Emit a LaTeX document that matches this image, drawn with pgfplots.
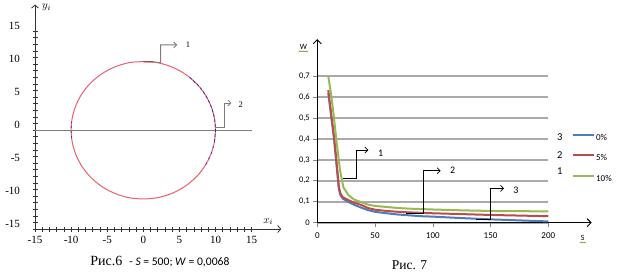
\documentclass[border=0pt]{standalone}
\usepackage{pgfplots}
\pgfplotsset{compat=1.18}
\usepackage{fontspec}
\setmainfont{Liberation Serif}
\newfontfamily\carlito{Carlito}
\usetikzlibrary{arrows.meta,decorations.pathmorphing}
\definecolor{circred}{RGB}{236,96,108}
\definecolor{circblue}{RGB}{50,40,190}
\definecolor{annogray}{RGB}{125,125,125}
\definecolor{xlblue}{RGB}{74,126,187}
\definecolor{xlred}{RGB}{190,75,72}
\definecolor{xlgreen}{RGB}{152,185,84}
\definecolor{gridg}{RGB}{170,170,170}
\begin{document}
\begin{tikzpicture}
\useasboundingbox (0,0) rectangle (624pt,274pt);
% ---------------- Left chart (Рис.6) ----------------
\begin{axis}[
  at={(35pt,45pt)}, anchor=south west,
  x=7.22pt, y=6.6pt,
  xmin=-15, xmax=19.1, ymin=-15, ymax=19,
  axis lines=left,
  axis line style={draw=black!80, line width=0.8pt, -{Straight Barb[length=3pt,width=7pt]}},
  xtick={-15,-10,...,15}, ytick={-15,-10,...,15},
  minor x tick num=4, minor y tick num=4,
  tick align=center,
  major tick length=5pt, minor tick length=5pt,
  tick style={black!80, line width=0.6pt},
  /pgf/number format/assume math mode=true,
  ticklabel style={font=\fontsize{11}{12}\selectfont},
  yticklabel style={xshift=-9pt, yshift=5pt},
  xticklabel style={yshift=-1pt},
  clip=false,
]
\addplot[annogray, line width=1pt] coordinates {(-15,0) (15,0)};
\addplot[circred, line width=1pt, smooth] coordinates {
(10,0) (9.848,1.806) (9.397,3.557) (8.660,5.200) (7.660,6.685) (6.428,7.967)
(5.000,9.007) (3.420,9.773) (1.736,10.242) (0,10.35) (-1.736,10.242) (-3.420,9.773)
(-5.000,9.007) (-6.428,7.967) (-7.660,6.685) (-8.660,5.200) (-9.397,3.557) (-9.848,1.806)
(-10,0) (-9.848,-1.816) (-9.397,-3.577) (-8.660,-5.229) (-7.660,-6.722) (-6.428,-8.011)
(-5.000,-9.057) (-3.420,-9.827) (-1.736,-10.299) (0,-10.45) (1.736,-10.299) (3.420,-9.827)
(5.000,-9.057) (6.428,-8.011) (7.660,-6.722) (8.660,-5.229) (9.397,-3.577) (9.848,-1.816)
(10,0)};
\addplot[circblue, line width=0.7pt, smooth, dash pattern=on 3pt off 2pt] coordinates {
(9.848,-1.816) (10,0) (9.848,1.806) (9.397,3.557) (8.660,5.200) (7.660,6.685) (6.428,7.967)};
\addplot[circblue, line width=0.7pt, smooth, dash pattern=on 2pt off 4pt] coordinates {
(8.660,-5.229) (9.397,-3.577) (9.848,-1.816)};
\addplot[circblue, line width=0.7pt, dash pattern=on 2pt off 3pt] coordinates {
(-9.95,-1.2) (-10,0) (-9.95,1.2)};
\addplot[circred!70!black, line width=1.2pt] coordinates {(0,10.35) (1.4,10.33)};
\draw[annogray, line width=0.8pt, -{Straight Barb[length=3pt,width=6pt]}]
  (axis cs:1.4,10.33) -- (axis cs:2.4,10.2) -- (axis cs:2.4,12.9) -- (axis cs:4.7,12.9);
\node[font=\fontsize{8.5}{9}\selectfont] at (axis cs:6.2,13.0) {1};
\draw[annogray, line width=0.8pt, -{Straight Barb[length=3pt,width=6pt]}]
  (axis cs:10.07,0.35) -- (axis cs:11.2,0.35) -- (axis cs:11.2,4.1) -- (axis cs:12.2,4.1);
\node[font=\fontsize{8.5}{9}\selectfont] at (axis cs:13.5,3.8) {2};
\node[font=\itshape\fontsize{11}{12}\selectfont] at (axis cs:-13.4,18.6) {$y_i$};
\node[font=\itshape\fontsize{11}{12}\selectfont] at (axis cs:17.3,-13.9) {$x_i$};
\node at (axis cs:2.3,-20) {\fontsize{14}{15}\selectfont Рис.6\ \ {\carlito\fontsize{11.6}{13}\selectfont - \textit{S} = 500; \textit{W} = 0,0068}};
\end{axis}
% ---------------- Right chart (Рис. 7) ----------------
\begin{axis}[
  at={(317.3pt,51.3pt)}, anchor=south west,
  x=1.155pt, y=209.6pt,
  xmin=0, xmax=200, ymin=0, ymax=0.7,
  axis lines=left,
  axis line style={draw=black, line width=0.9pt, -{Straight Barb[length=4pt,width=8pt]}},
  x axis line style={shorten >=-43.4pt},
  y axis line style={shorten >=-36.9pt},
  ymajorgrids,
  grid style={gridg, line width=1.6pt},
  xtick={0,50,100,150,200},
  ytick={0,0.1,0.2,0.3,0.4,0.5,0.6,0.7},
  yticklabels={0,{0,1},{0,2},{0,3},{0,4},{0,5},{0,6},{0,7}},
  xtick align=outside, ytick align=outside,
  major tick length=4pt,
  tick style={gridg!80!black, line width=0.6pt},
  /pgf/number format/assume math mode=true,
  ticklabel style={font=\carlito\fontsize{8.5}{9}\selectfont},
  xticklabel style={yshift=-2pt, font=\carlito\fontsize{9}{10}\selectfont},
  clip=false,
  legend style={draw=none, fill=none, at={(axis cs:220.5,0.4256)}, anchor=north west,
    font=\carlito\fontsize{9}{10}\selectfont, row sep=13pt, inner sep=0pt,
    nodes={inner xsep=1pt, inner ysep=0pt, text height=6pt, text depth=1pt}},
  legend cell align=left,
  legend image code/.code={\draw[#1] (0pt,3pt) -- (21pt,3pt);},
]
\addplot[xlblue, line width=2pt, line join=round] coordinates {
(9.5,0.62) (12,0.51) (14.5,0.40) (17.3,0.24) (18.7,0.16) (20,0.132) (22,0.115) (26,0.102)
(32,0.085) (38,0.072) (44,0.060) (50,0.052) (60,0.045) (70,0.039) (80,0.035) (90,0.031)
(100,0.029) (125,0.022) (150,0.016) (175,0.011) (200,0.006)};
\addplot[xlred, line width=2pt, line join=round] coordinates {
(9.5,0.633) (12,0.52) (14.5,0.41) (17.3,0.25) (18.7,0.17) (20,0.14) (22,0.122) (26,0.11)
(32,0.095) (38,0.085) (44,0.070) (50,0.062) (60,0.056) (70,0.052) (80,0.049) (90,0.047)
(100,0.045) (125,0.041) (150,0.037) (175,0.034) (200,0.031)};
\addplot[xlgreen, line width=2pt, line join=round] coordinates {
(9.5,0.70) (12,0.61) (14,0.52) (16.8,0.38) (19.7,0.25) (22.5,0.17) (26.9,0.132) (32,0.11)
(38,0.098) (44,0.086) (50,0.080) (60,0.075) (70,0.070) (80,0.067) (90,0.065) (100,0.063)
(125,0.059) (150,0.056) (175,0.055) (200,0.054)};
\legend{0\%,5\%,10\%}
\draw[black, line width=0.7pt, -{Straight Barb[length=3pt,width=6pt]}]
  (axis cs:22.5,0.212) -- (axis cs:34.1,0.212) -- (axis cs:34.1,0.347) -- (axis cs:44.2,0.347);
\node[font=\carlito\fontsize{10}{11}\selectfont] at (axis cs:54.9,0.331) {1};
\draw[black, line width=0.7pt, -{Straight Barb[length=3pt,width=6pt]}]
  (axis cs:76.8,0.045) -- (axis cs:91.8,0.045) -- (axis cs:91.8,0.248) -- (axis cs:106.8,0.248);
\node[font=\carlito\fontsize{10}{11}\selectfont] at (axis cs:117.2,0.248) {2};
\draw[black, line width=0.7pt, -{Straight Barb[length=3pt,width=6pt]}]
  (axis cs:137.4,0.016) -- (axis cs:149.5,0.016) -- (axis cs:149.5,0.164) -- (axis cs:161.6,0.164);
\node[font=\carlito\fontsize{10}{11}\selectfont] at (axis cs:172,0.156) {3};
\node[font=\carlito\fontsize{10.5}{11}\selectfont] at (axis cs:210,0.409) {3};
\node[font=\carlito\fontsize{10.5}{11}\selectfont] at (axis cs:210,0.323) {2};
\node[font=\carlito\fontsize{10.5}{11}\selectfont] at (axis cs:210,0.246) {1};
\node[font=\carlito\fontsize{8}{9}\selectfont, inner sep=1pt] (W) at (axis cs:-12.1,0.838) {W};
\draw[xlgreen!80!black, line width=0.4pt, decorate, decoration={zigzag, amplitude=0.5pt, segment length=1.5pt}]
  ([yshift=-0.5pt]W.south west) -- ([yshift=-0.5pt]W.south east);
\node[font=\carlito\fontsize{8}{9}\selectfont, inner sep=1pt] (S) at (axis cs:229.8,-0.074) {S};
\draw[xlgreen!80!black, line width=0.4pt, decorate, decoration={zigzag, amplitude=0.5pt, segment length=1.5pt}]
  ([yshift=-0.5pt]S.south west) -- ([yshift=-0.5pt]S.south east);
\node[font=\fontsize{13.5}{15}\selectfont] at (axis cs:79.8,-0.205) {Рис. 7};
\end{axis}
\end{tikzpicture}
\end{document}
